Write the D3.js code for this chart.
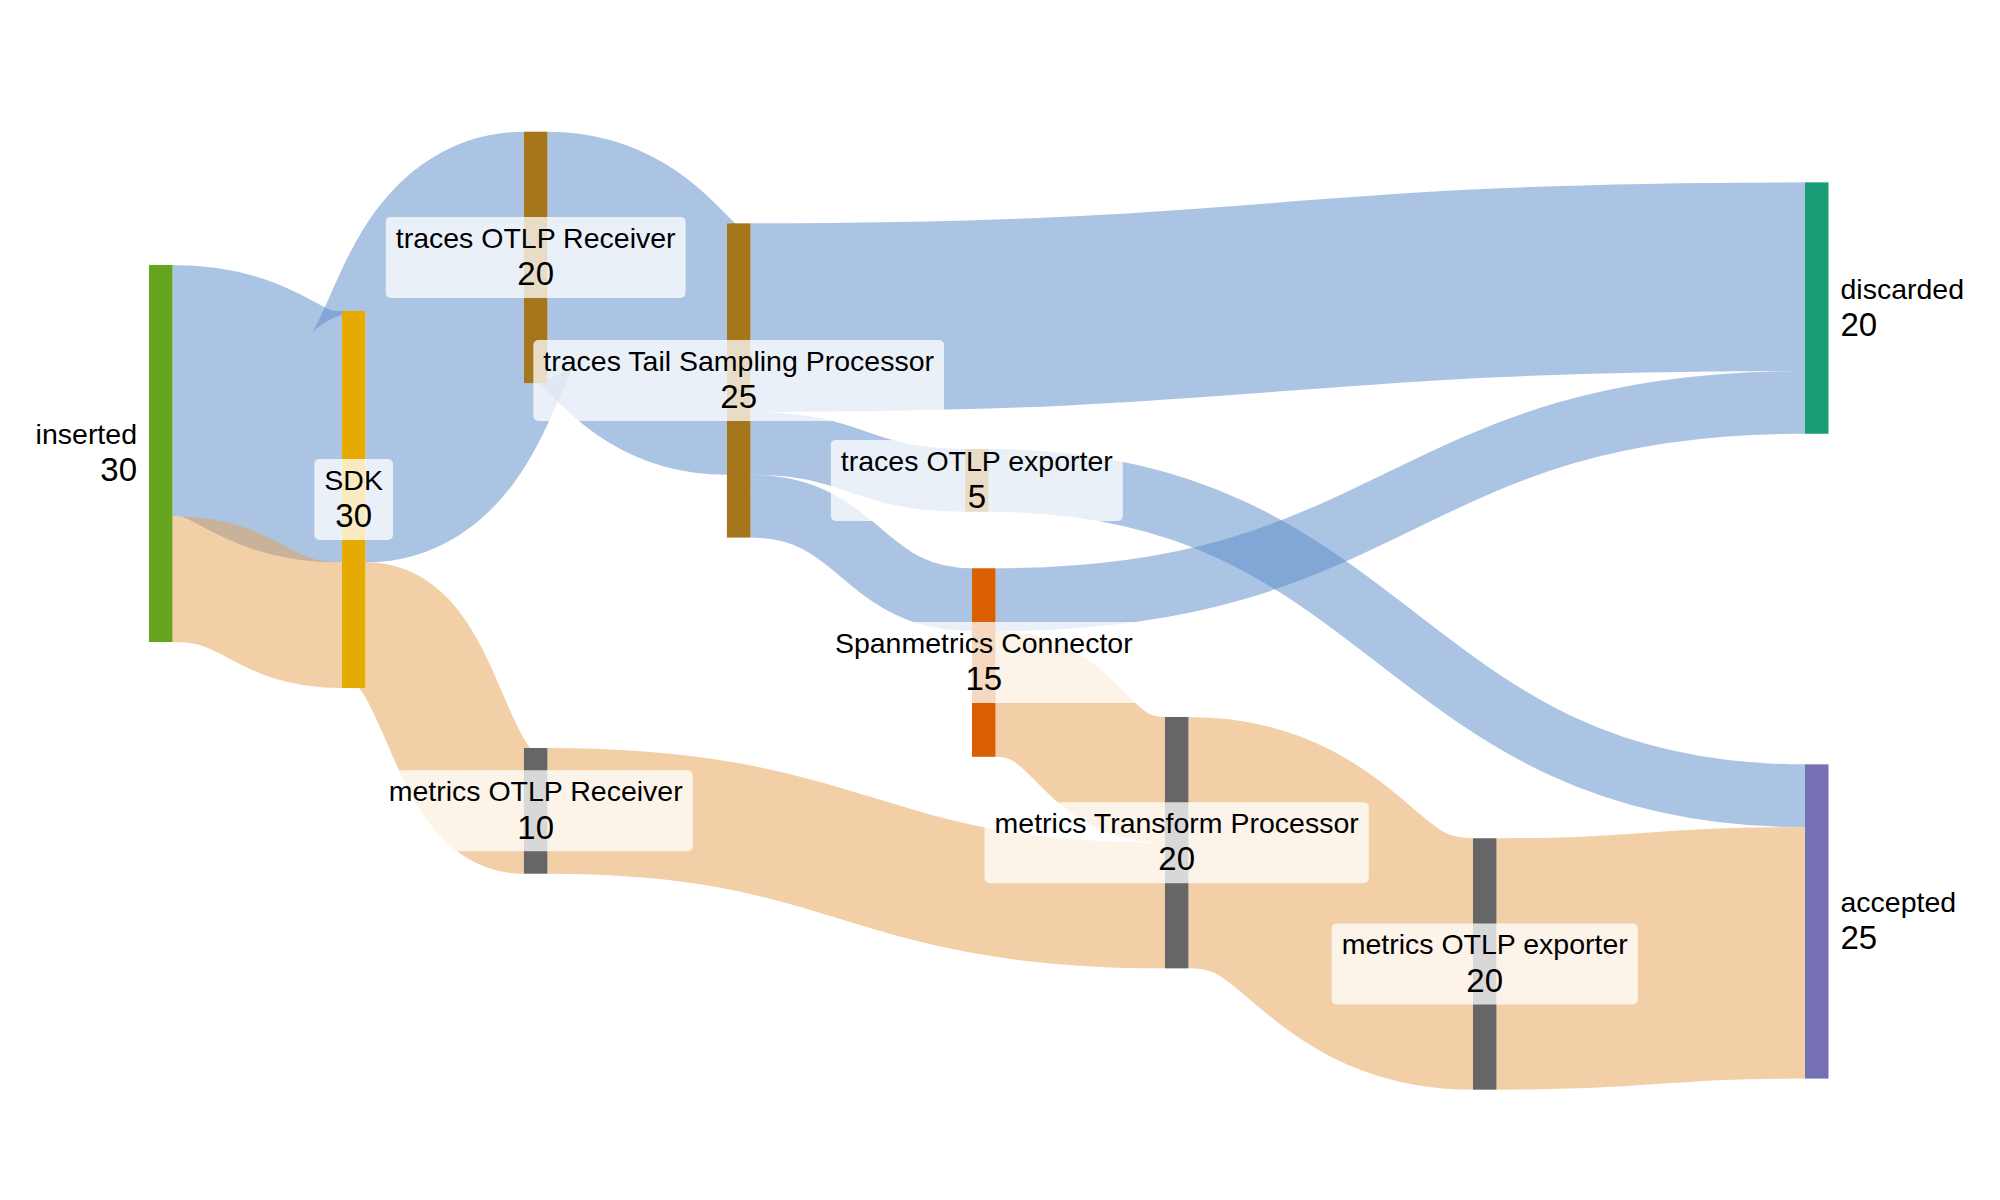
<!DOCTYPE html>
<html>
<head>
<meta charset="utf-8">
<script src="https://cdn.jsdelivr.net/npm/d3@7"></script>
<style>
  body { margin: 0; background: #ffffff; }
  svg { display: block; }
</style>
</head>
<body>
<svg id="chart" width="2000" height="1200"></svg>
<script>
// ---------------- DATA ----------------
const nodeNames = [
  "inserted", "SDK", "traces OTLP Receiver", "metrics OTLP Receiver",
  "traces Tail Sampling Processor", "traces OTLP exporter", "Spanmetrics Connector",
  "metrics Transform Processor", "metrics OTLP exporter", "discarded", "accepted"
];
const nodeGroups = [
  "inserted", "sdk", "traces", "metrics",
  "traces", "traces", "connector",
  "metrics", "metrics", "discarded", "accepted"
];
const linkSources = [0, 1, 2, 4, 4, 4, 5, 6, 0, 1, 3, 6, 7, 8];
const linkTargets = [1, 2, 4, 9, 5, 6, 10, 9, 1, 3, 7, 7, 8, 10];
const linkValues  = [20, 20, 20, 15, 5, 5, 5, 5, 10, 10, 10, 10, 20, 20];
const linkSignals = ["traces", "traces", "traces", "traces", "traces", "traces", "traces", "traces",
                     "metrics", "metrics", "metrics", "metrics", "metrics", "metrics"];

// ---------------- LAYOUT (node placement, in layout units) ----------------
const nodeColumn = [0, 0.1165, 0.2264, 0.2264, 0.349, 0.4928, 0.497, 0.6135, 0.7995, 1, 1];
const nodeOffset = [10.60, 14.26, 0, 49.03, 7.29, 25.24, 34.73, 46.56, 56.21, 4.03, 50.33];

// ---------------- STYLE ----------------
const groupColor = d3.scaleOrdinal()
  .domain(["discarded", "connector", "accepted", "unused", "inserted", "sdk", "traces", "metrics"])
  .range(d3.schemeDark2);
const signalColor = d3.scaleOrdinal().domain(["traces", "metrics"]).range(["#5789c9", "#e59f4f"]);
const FONT = "'Liberation Sans', Arial, Helvetica, sans-serif";
const NAME_SIZE = 28.5, VALUE_SIZE = 33, NODE_W = 23.5;

// ---------------- BUILD GRAPH ----------------
const nodes = nodeNames.map((name, i) => ({
  index: i, name, group: nodeGroups[i], col: nodeColumn[i], off: nodeOffset[i],
  sourceLinks: [], targetLinks: []
}));
const links = linkValues.map((v, i) => ({
  index: i, source: nodes[linkSources[i]], target: nodes[linkTargets[i]],
  value: v, signal: linkSignals[i]
}));
links.forEach(l => { l.source.sourceLinks.push(l); l.target.targetLinks.push(l); });
nodes.forEach(n => {
  n.value = Math.max(d3.sum(n.sourceLinks, l => l.value), d3.sum(n.targetLinks, l => l.value));
});

const x = d3.scaleLinear().domain([0, 1]).range([149, 1805]);
const unitPx = 12.57;
const yTop = 131.7;
const y = d3.scaleLinear().domain([0, 76.1]).range([yTop, yTop + 76.1 * unitPx]);
const w = d3.scaleLinear().domain([0, 1]).range([0, unitPx]);

nodes.forEach(n => {
  n.x0 = x(n.col); n.x1 = n.x0 + NODE_W;
  n.y0 = y(n.off); n.y1 = y(n.off + n.value);
});
links.forEach(l => { l.width = w(l.value); });
nodes.forEach(n => {
  n.sourceLinks.sort((a, b) => (a.target.y0 - b.target.y0) || (a.index - b.index));
  n.targetLinks.sort((a, b) => (a.source.y0 - b.source.y0) || (a.index - b.index));
  let ys = n.y0;
  n.sourceLinks.forEach(l => { l.y0 = ys + l.width / 2; ys += l.width; });
  let yt = n.y0;
  n.targetLinks.forEach(l => { l.y1 = yt + l.width / 2; yt += l.width; });
});

// ---------------- DRAW ----------------
const svg = d3.select("#chart");
svg.append("rect").attr("width", 2000).attr("height", 1200).attr("fill", "#ffffff");

const linkPath = d3.linkHorizontal()
  .source(d => [d.source.x1, d.y0])
  .target(d => [d.target.x0, d.y1]);

svg.append("g").attr("fill", "none")
  .selectAll("path").data(links).join("path")
  .attr("d", linkPath)
  .attr("stroke", d => signalColor(d.signal))
  .attr("stroke-opacity", 0.5)
  .attr("stroke-width", d => d.width);

svg.append("g")
  .selectAll("rect").data(nodes).join("rect")
  .attr("x", d => d.x0).attr("y", d => d.y0)
  .attr("width", d => d.x1 - d.x0).attr("height", d => d.y1 - d.y0)
  .attr("fill", d => groupColor(d.group));

const labels = svg.append("g").attr("font-family", FONT).attr("fill", "#000");
nodes.forEach(n => {
  const g = labels.append("g");
  const cy = (n.y0 + n.y1) / 2;
  let tx, anchor;
  if (n.col === 0) { tx = n.x0 - 12; anchor = "end"; }
  else if (n.col === 1) { tx = n.x1 + 12; anchor = "start"; }
  else { tx = (n.x0 + n.x1) / 2; anchor = "middle"; }
  const box = g.append("rect");
  const t1 = g.append("text").attr("x", tx).attr("y", cy - 9.5)
    .attr("text-anchor", anchor).attr("font-size", NAME_SIZE).text(n.name);
  const t2 = g.append("text").attr("x", tx).attr("y", cy + 27.8)
    .attr("text-anchor", anchor).attr("font-size", VALUE_SIZE).text(n.value);
  if (anchor === "middle") {
    const tw = Math.max(t1.node().getComputedTextLength(), t2.node().getComputedTextLength());
    const bw = tw + 20;
    box.attr("x", tx - bw / 2).attr("y", cy - 40.5)
      .attr("width", bw).attr("height", 81)
      .attr("rx", 5).attr("ry", 5)
      .attr("fill", "#ffffff").attr("fill-opacity", 0.75);
  } else {
    box.remove();
  }
});
</script>
</body>
</html>
